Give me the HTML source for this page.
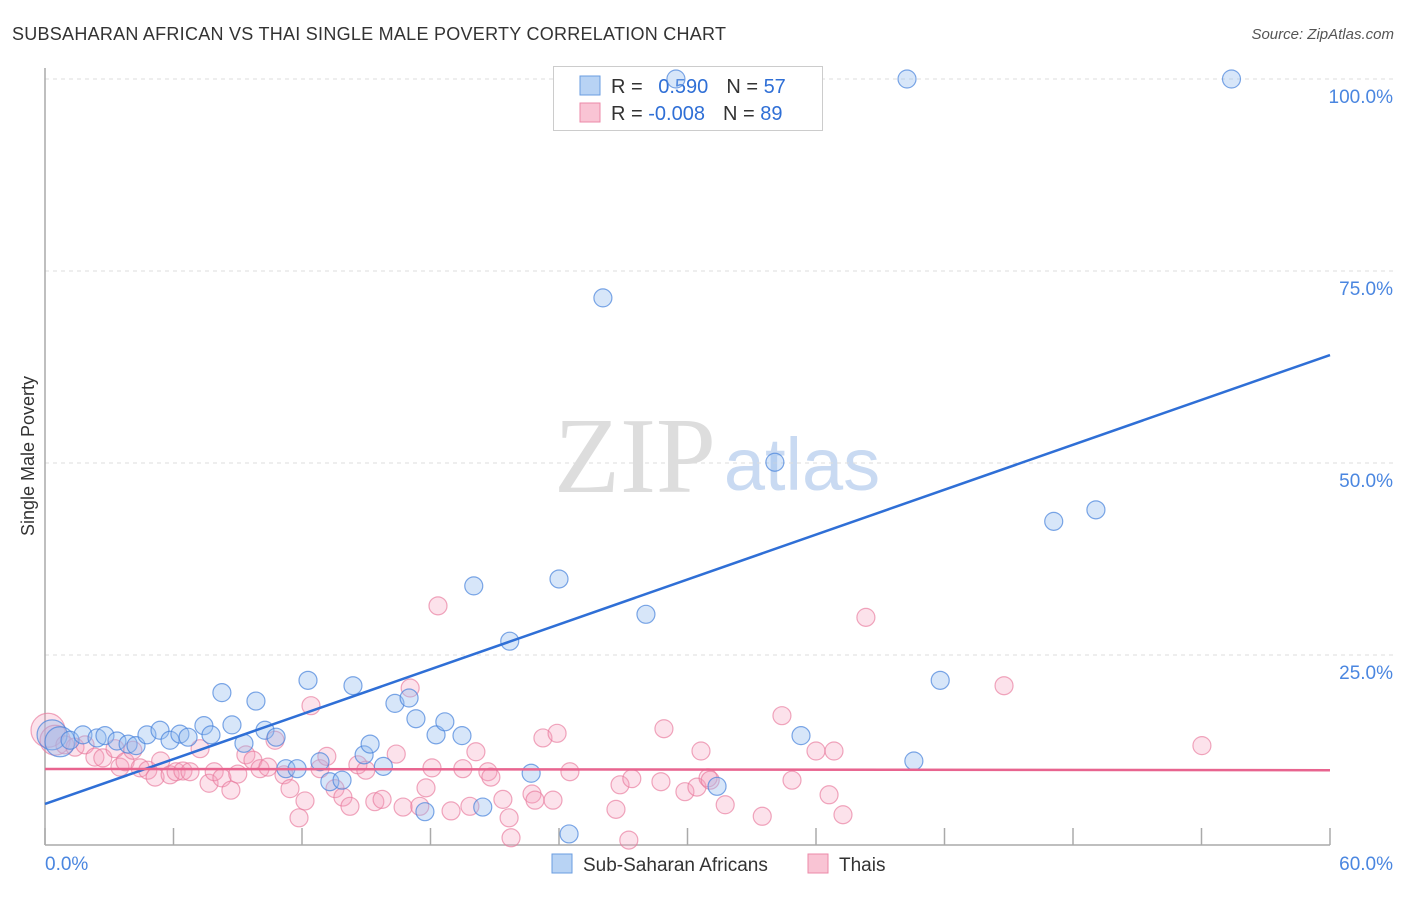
<!DOCTYPE html>
<html><head><meta charset="utf-8"><style>
body{margin:0;background:#fff;font-family:"Liberation Sans",sans-serif;}
svg text{font-family:"Liberation Sans",sans-serif;}
</style></head><body>
<svg id="chart" width="1406" height="892" xmlns="http://www.w3.org/2000/svg">
<text x="12" y="40" font-size="18" fill="#333" textLength="714">SUBSAHARAN AFRICAN VS THAI SINGLE MALE POVERTY CORRELATION CHART</text>
<text x="1394" y="39" font-size="15" fill="#555" text-anchor="end" font-style="italic">Source: ZipAtlas.com</text>
<g>
<text x="635" y="492" font-size="108" fill="#ddd" text-anchor="middle" style="font-family:'Liberation Serif',serif">ZIP</text>
<text x="802" y="490" font-size="74" fill="#c9daf2" text-anchor="middle">atlas</text>
</g>
<g id="grid"></g>
<g id="axes"></g>
<g>
<rect x="553.5" y="66.5" width="269" height="64" fill="#fff" stroke="#ccc"/>
<rect x="580" y="76" width="20" height="19" fill="#b8d3f4" stroke="#6a9de0"/>
<rect x="580" y="103" width="20" height="19" fill="#f9c4d4" stroke="#ec8aa8"/>
<text x="611" y="93" font-size="20" fill="#333">R = <tspan fill="#2f6fd6" dx="10">0.590</tspan><tspan dx="18">N = </tspan><tspan fill="#2f6fd6">57</tspan></text>
<text x="611" y="120" font-size="20" fill="#333">R = <tspan fill="#2f6fd6">-0.008</tspan><tspan dx="18">N = </tspan><tspan fill="#2f6fd6">89</tspan></text>
</g>
<g id="marks"></g>
<text x="34" y="456" font-size="18" fill="#333" text-anchor="middle" transform="rotate(-90 34 456)">Single Male Poverty</text>
<g>
<rect x="552" y="854" width="20" height="19" fill="#b8d3f4" stroke="#6a9de0"/>
<text x="583" y="871" font-size="19" fill="#333">Sub-Saharan Africans</text>
<rect x="808" y="854" width="20" height="19" fill="#f9c4d4" stroke="#ec8aa8"/>
<text x="839" y="871" font-size="19" fill="#333">Thais</text>
</g>
</svg>
<script>
const yTicks=[25,50,75,100];
const yTickLabels=["25.0%","50.0%","75.0%","100.0%"];
const xTicks=[0,6,12,18,24,30,36,42,48,54,60];
const blueX=[0.33,0.7,1.17,1.77,2.43,2.8,3.36,3.88,4.25,4.76,5.37,5.84,6.3,6.68,7.42,7.75,8.26,8.73,9.29,9.85,10.27,10.79,11.25,11.77,12.28,12.84,13.3,13.87,14.38,14.9,15.18,15.8,16.34,17.0,17.32,17.74,18.26,18.67,19.47,20.02,20.44,21.7,22.7,24.0,24.47,26.05,28.06,29.46,31.38,34.08,35.3,40.25,40.57,41.8,47.1,49.07,55.4];
const blueY=[14.6,13.7,13.9,14.6,14.2,14.5,13.8,13.4,13.2,14.6,15.2,13.9,14.7,14.3,15.8,14.6,20.1,15.9,13.5,19.0,15.2,14.3,10.2,10.2,21.7,11.1,8.5,8.7,21.0,12.0,13.4,10.5,18.7,19.4,16.7,4.6,14.6,16.3,14.5,34.0,5.2,26.8,9.6,34.9,1.7,71.5,30.3,100,7.9,50.1,14.5,100,11.2,21.7,42.4,43.9,100];
const blueR=[15,15];
const pinkX=[0.14,0.47,0.93,1.4,1.87,2.33,2.7,3.27,3.5,3.74,4.1,4.44,4.8,5.14,5.4,5.84,6.12,6.44,6.77,7.24,7.66,7.9,8.26,8.68,9.0,9.38,9.71,10.04,10.41,10.74,11.16,11.44,11.86,12.14,12.42,12.84,13.16,13.54,13.91,14.24,14.61,14.98,15.4,15.74,16.4,16.72,17.05,17.5,17.79,18.07,18.35,18.96,19.51,19.84,20.12,20.68,20.82,21.38,21.67,21.76,22.74,22.88,23.25,23.72,23.91,24.51,26.66,26.85,27.26,27.4,28.76,28.9,29.88,30.44,30.63,30.96,31.06,31.76,33.49,34.41,34.88,36.0,36.61,36.84,37.26,38.33,44.78,54.02];
const pinkY=[15.2,13.9,13.3,13.0,13.3,11.7,11.6,12.8,10.4,11.1,12.6,10.3,10.0,9.1,11.2,9.4,9.8,9.9,9.8,12.8,8.3,9.8,9.0,7.4,9.5,12.0,11.3,10.2,10.4,13.9,9.4,7.6,3.8,6.0,18.4,10.2,11.8,7.6,6.5,5.3,10.7,10.0,5.9,6.2,12.1,5.2,20.7,5.3,7.7,10.3,31.4,4.7,10.2,5.3,12.4,9.8,9.1,6.2,3.8,1.2,6.9,6.1,14.2,6.1,14.8,9.8,4.9,8.1,0.9,8.9,8.5,15.4,7.2,7.8,12.5,9.0,8.7,5.5,4.0,17.1,8.7,12.5,6.8,12.5,4.2,29.9,21.0,13.2];
const pinkR=[17,15];
const blueTrend=[5.6,64.06];
const pinkTrend=[10.16,10.0];
const NS="http://www.w3.org/2000/svg";
const X=v=>45+v/60*1285, Y=v=>847-v/25*192;
function mk(tag,attrs,parent){const e=document.createElementNS(NS,tag);for(const k in attrs)e.setAttribute(k,attrs[k]);parent.appendChild(e);return e;}
const grid=document.getElementById('grid'),axes=document.getElementById('axes'),marks=document.getElementById('marks');
yTicks.forEach((t,i)=>{
 const l=mk('line',{x1:45,x2:1393,y1:Y(t),y2:Y(t),stroke:'#ddd','stroke-dasharray':'4 4'},grid);
 
 
 const tx=mk('text',{x:1393,y:Y(t)+24,'font-size':19,fill:'#4a86e0','text-anchor':'end'},grid);
 tx.textContent=yTickLabels[i];
 
 
});
const ya=mk('line',{x1:45,x2:45,y1:68,y2:845,stroke:'#aaa','stroke-width':1.5},axes);


const xa=mk('line',{x1:45,x2:1330,y1:845,y2:845,stroke:'#aaa','stroke-width':1.5},axes);


xTicks.forEach(t=>{
 const l=mk('line',{x1:X(t),x2:X(t),y1:828,y2:845,stroke:'#aaa','stroke-width':1.5},axes);
 
 
});
const x0=mk('text',{x:45,y:870,'font-size':19,fill:'#4a86e0'},axes);x0.textContent='0.0%';


const x1=mk('text',{x:1393,y:870,'font-size':19,fill:'#4a86e0','text-anchor':'end'},axes);x1.textContent='60.0%';


function pts(xs,ys,rs,fill,stroke,name){
 xs.forEach((x,i)=>{
  const c=mk('circle',{cx:X(x),cy:Y(ys[i]),r:rs[i]||9,fill:fill,stroke:stroke,'stroke-width':1.2},marks);
  
  
 });
}
pts(pinkX,pinkY,pinkR,'rgba(246,160,188,0.3)','rgba(232,120,155,0.65)','thai-point');
pts(blueX,blueY,blueR,'rgba(150,190,240,0.38)','rgba(70,130,220,0.7)','sub-saharan-point');
const bl=mk('line',{x1:X(0),y1:Y(blueTrend[0]),x2:X(60),y2:Y(blueTrend[1]),stroke:'#2f6fd6','stroke-width':2.5},marks);


const pl=mk('line',{x1:X(0),y1:Y(pinkTrend[0]),x2:X(60),y2:Y(pinkTrend[1]),stroke:'#e8648f','stroke-width':2.5},marks);


</script>
</body></html>
